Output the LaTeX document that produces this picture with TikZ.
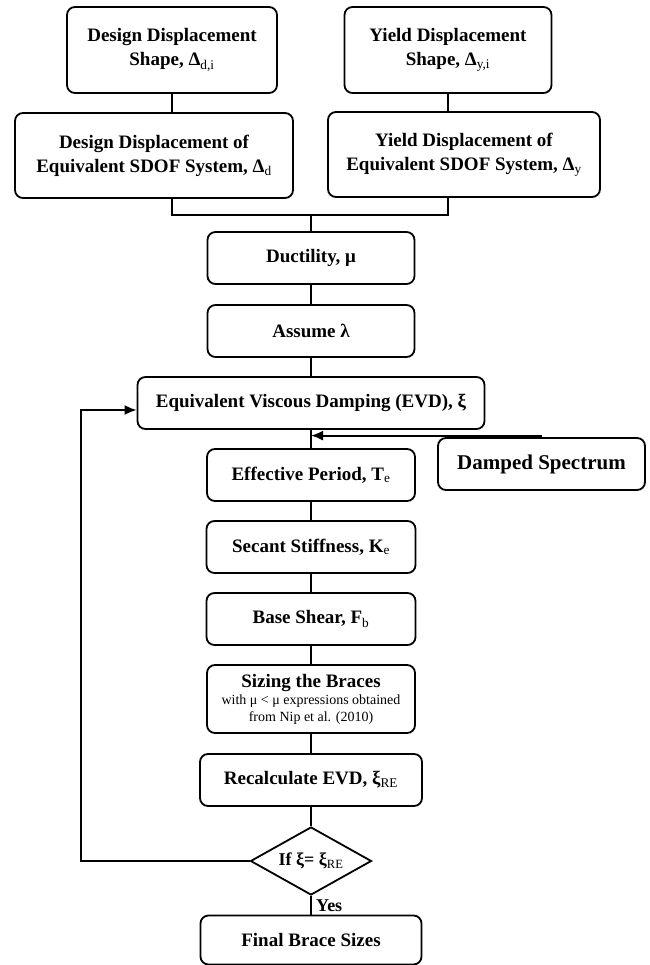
\documentclass[tikz,border=0pt]{standalone}
\usepackage{fontspec}
\setmainfont{Liberation Serif}
\usetikzlibrary{arrows.meta,shapes.geometric}

\newcommand*{\colx}{311}
\newcommand*{\backx}{81}

\begin{document}
\begin{tikzpicture}[x=1pt,y=-1pt,line width=1.8pt,>={Latex[length=12pt,width=10pt]},
	stage/.style={draw,rounded corners=8pt,align=center,inner sep=2pt,minimum height=52pt,
		font=\fontsize{19}{24}\selectfont\bfseries},
	check/.style={draw,diamond,aspect=1.78,inner sep=0pt,minimum width=121pt,minimum height=68pt,
		font=\fontsize{18}{21}\selectfont\bfseries}]

	\useasboundingbox (0,0) rectangle (649,965);

	% displacements
	\node[stage,minimum width=210pt,minimum height=86pt] (dshape) at (172,50)
		{Design Displacement\\Shape, Δ\textsubscript{\mdseries d,i}};
	\node[stage,minimum width=207pt,minimum height=86pt] (yshape) at (448,50)
		{Yield Displacement\\Shape, Δ\textsubscript{\mdseries y,i}};
	\node[stage,minimum width=278pt,minimum height=85pt] (dsdof) at (154,155.5)
		{Design Displacement of\\Equivalent SDOF System, Δ\textsubscript{\mdseries d}};
	\node[stage,minimum width=272pt,minimum height=85pt] (ysdof) at (464,154.5)
		{Yield Displacement of\\Equivalent SDOF System, Δ\textsubscript{\mdseries y}};
	\coordinate (join) at (\colx,215);

	% main column
	\node[stage,minimum width=207pt] (duct) at (\colx,258) {Ductility, μ};
	\node[stage,minimum width=207pt] (lam) at (\colx,331) {Assume λ};
	\node[stage,minimum width=347pt] (evd) at (\colx,403) {Equivalent Viscous Damping (EVD), ξ};
	\node[stage,minimum width=207pt] (damped) at (541.5,464)
		{\fontsize{21}{24}\selectfont Damped Spectrum};
	\node[stage,minimum width=208pt] (period) at (\colx,475) {Effective Period, T\textsubscript{\mdseries e}};
	\node[stage,minimum width=209pt] (secant) at (\colx,547) {Secant Stiffness, K\textsubscript{\mdseries e}};
	\node[stage,minimum width=209pt] (shear) at (\colx,619) {Base Shear, F\textsubscript{\mdseries b}};
	\node[stage,minimum width=208pt,minimum height=68pt] (sizing) at (\colx,699)
		{Sizing the Braces\\[-7pt]{\mdseries\fontsize{14}{16}\selectfont with μ < μ expressions obtained}\\[-7pt]
		{\mdseries\fontsize{14}{16}\selectfont from Nip et al. (2010)}};
	\node[stage,minimum width=222pt] (recalc) at (\colx,780) {Recalculate EVD, ξ\textsubscript{\mdseries RE}};
	\node[check] (same) at (\colx,861) {If ξ= ξ\textsubscript{\mdseries RE}};
	\node[stage,minimum width=221pt,minimum height=49pt] (final) at (\colx,940) {Final Brace Sizes};

	% connectors
	\draw (dshape.south) -- (dshape.south |- dsdof.north);
	\draw (yshape.south) -- (yshape.south |- ysdof.north);
	\draw (dsdof.south -| dshape.south) |- (join) -| (ysdof.south -| yshape.south);
	\draw (join) -- (duct.north);
	\draw (duct) -- (lam);
	\draw (lam) -- (evd);
	\draw (evd) -- (period);
	\draw (period) -- (secant);
	\draw (secant) -- (shear);
	\draw (shear) -- (sizing);
	\draw (sizing) -- (recalc);
	\draw (recalc) -- (same);
	\draw (same) -- node[right=1pt,font=\fontsize{18}{21}\selectfont\bfseries] {Yes} (final);

	\draw[->] ([yshift=1.5pt]damped.north) -- ([yshift=1.5pt]damped.north -| period.north);
	\draw[->] (same.west) -| (\backx,410) -- ([yshift=-7pt]evd.west);

\end{tikzpicture}
\end{document}
